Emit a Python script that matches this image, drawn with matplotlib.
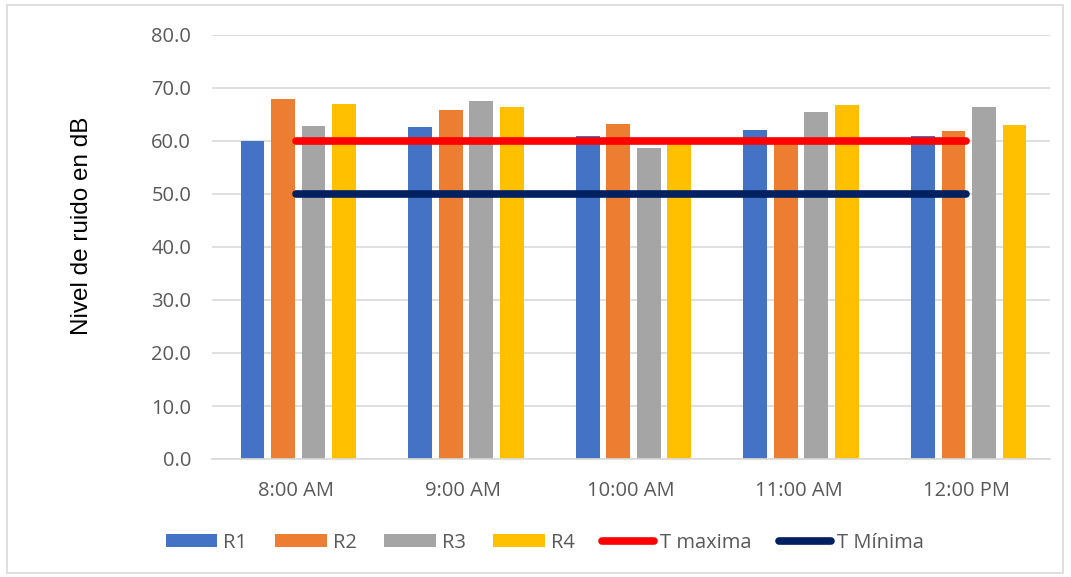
import numpy as np
import matplotlib.pyplot as plt
from matplotlib.patches import Rectangle

# Values
horas = ["8:00 AM", "9:00 AM", "10:00 AM", "11:00 AM", "12:00 PM"]
r1 = [60.0, 62.6, 60.9, 62.0, 61.0]
r2 = [67.9, 65.9, 63.2, 60.3, 61.8]
r3 = [62.9, 67.5, 58.6, 65.5, 66.5]
r4 = [67.0, 66.5, 60.2, 66.7, 63.0]
t_maxima = [60, 60, 60, 60, 60]
t_minima = [50, 50, 50, 50, 50]

series = [("R1", r1, "#4472C4"), ("R2", r2, "#ED7D31"),
          ("R3", r3, "#A5A5A5"), ("R4", r4, "#FFC000")]

fig = plt.figure(figsize=(10.71, 5.77), dpi=100)
ax = fig.add_axes([212 / 1071, 1 - 459 / 577, 838 / 1071, 424 / 577])

# light frame around the whole chart, as in the spreadsheet export
fig.patches.append(Rectangle((7 / 1071, 4 / 577), 1056 / 1071, 568 / 577,
                             transform=fig.transFigure, fill=False,
                             edgecolor="#D9D9D9", linewidth=1.2))

x = np.arange(len(horas))
step, width = 0.182, 0.142
handles = []
for i, (name, vals, color) in enumerate(series):
    handles.append(ax.bar(x + (i - 1.5) * step + 0.015, vals, width,
                          color=color, label=name, zorder=2))

handles += ax.plot(x, t_maxima, color="#FF0000", linewidth=5.5,
                   solid_capstyle="round", label="T maxima", zorder=3)
handles += ax.plot(x, t_minima, color="#002060", linewidth=5.5,
                   solid_capstyle="round", label="T Mínima", zorder=3)

ax.set_xlim(-0.5, len(horas) - 0.5)
ax.set_ylim(0, 80)
ax.set_yticks(np.arange(0, 81, 10))
ax.set_yticklabels([f"{v:.1f}" for v in np.arange(0, 81, 10)])
ax.set_xticks(x)
ax.set_xticklabels(horas)
ax.yaxis.grid(True, color="#D9D9D9", linewidth=1.2, zorder=0)
ax.set_axisbelow(True)
for side in ("top", "right", "left"):
    ax.spines[side].set_visible(False)
ax.spines["bottom"].set_color("#D9D9D9")
ax.spines["bottom"].set_linewidth(1.2)
ax.tick_params(length=0, labelsize=14.5, labelcolor="#595959")
ax.tick_params(axis="y", pad=15)
ax.tick_params(axis="x", pad=16)
for lab in ax.get_xticklabels() + ax.get_yticklabels():
    lab.set_family("Open Sans")
ax.set_ylabel("Nivel de ruido en dB", fontsize=17.5, family="Liberation Sans")
ax.yaxis.set_label_coords(-0.142, 0.55)

leg = ax.legend(handles=handles, loc="center left",
                bbox_to_anchor=(-0.0549, -0.197), ncol=6, frameon=False,
                borderpad=0, borderaxespad=0,
                handlelength=2.55, handleheight=0.62, columnspacing=1.38,
                handletextpad=0.3, prop={"family": "Open Sans", "size": 14.5})
for t in leg.get_texts():
    t.set_color("#595959")

fig.savefig("out.png", dpi=100)
